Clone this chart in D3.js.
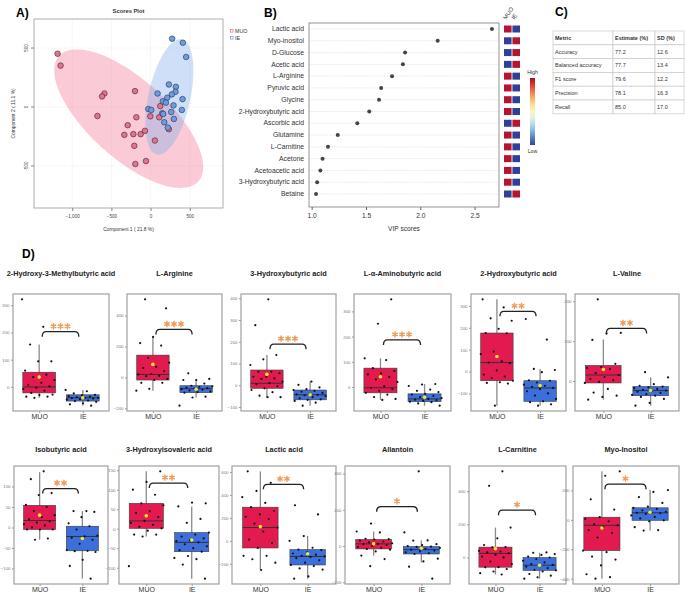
<!DOCTYPE html>
<html>
<head>
<meta charset="utf-8">
<script src="https://cdn.jsdelivr.net/npm/d3@7"></script>
<style>
  body { margin: 0; background: #fff; }
  text { font-family: "Liberation Sans", Arial, sans-serif; }
</style>
</head>
<body>
<svg id="fig" width="685" height="596"></svg>
<script>
// ---- A) scores plot
const muoScores = [[-1186,452],[-1148,351],[-589,115],[-619,90],[-678,-76],[-199,135],[-182,-87],[-292,-154],[-335,-236],[-220,-230],
  [-127,-230],[-72,-202],[-208,-329],[55,-284],[-59,-458],[-195,-483],[-4,-79],[123,8],[110,-87],[233,-188]];
const ieScores = [[275,579],[411,545],[453,424],[233,191],[322,171],[318,129],[271,107],[212,79],[89,115],[156,48],[195,37],
  [407,67],[292,14],[398,-25],[263,-42],[-30,-17],[8,-25],[148,-53],[161,-59],[297,-101],[174,-129],[220,-174]];
const scoreXLim = [-1487, 923];
const scoreYLim = [-856, 746];
const scoreXTicks = [-1000, -500, 0, 500];
const scoreYTicks = [-500, 0, 500];

// ---- B) VIP scores
const vipNames = ["Lactic acid","Myo-inositol","D-Glucose","Acetic acid","L-Arginine","Pyruvic acid","Glycine",
  "2-Hydroxybutyric acid","Ascorbic acid","Glutamine","L-Carnitine","Acetone","Acetoacetic acid","3-Hydroxybutyric acid","Betaine"];
const vipScores = [2.66, 2.16, 1.86, 1.84, 1.74, 1.64, 1.62, 1.53, 1.42, 1.24, 1.15, 1.10, 1.08, 1.05, 1.04];
const vipHigh = ["MUO","IE","IE","IE","MUO","MUO","MUO","MUO","IE","MUO","MUO","MUO","MUO","MUO","IE"];
const vipTicks = [1.0, 1.5, 2.0, 2.5];

// ---- C) table
const metricNames = ["Accuracy","Balanced accuracy","F1 score","Precision","Recall"];
const metricEstimates = ["77.2","77.7","79.6","78.1","85.0"];
const metricSD = ["12.6","13.4","12.2","16.3","17.0"];

// ---- D) box plots
const groups = ["MUO", "IE"];
const boxTitles = ["2-Hydroxy-3-Methylbutyric acid","L-Arginine","3-Hydroxybutyric acid","L-\u03b1-Aminobutyric acid",
  "2-Hydroxybutyric acid","L-Valine","Isobutyric acid","3-Hydroxyisovaleric acid","Lactic acid","Allantoin","L-Carnitine","Myo-Inositol"];
const boxStars = [3,3,3,3,2,2,2,2,2,1,1,1];
const boxTicks = [[0,100,200,300],[-200,0,200,400],[-100,0,100,200,300,400],[0,100,200,300],[-100,0,100,200,300],[0,100,200],
  [-100,-50,0,50,100],[-100,-50,0,50,100,150],[-200,0,200,400,600],[-200,0,200,400],[0,200,400],[-400,-200,0,200]];
const bracketY = [203,310,189,187,275,132,95,117,492,217,285,243];
// [whisker low, q1, median, q3, whisker high, mean]
const muoStats = [[-40,-22,0,54,156,36],[-86,-17,19,144,262,84],[-55,-14,9,70,139,50],[-51,-23,-3,75,114,41],
  [-156,-42,41,176,330,69],[-47,-5,15,39,104,29],[-30,-5,17,54,135,30],[-20,1,20,65,147,33],
  [-254,-62,116,293,605,124],[-53,-16,12,36,80,12],[-103,-59,24,62,180,53],[-400,-209,-37,18,330,-55]];
const ieStats = [[-69,-52,-40,-29,-11,-40],[-130,-99,-73,-54,-10,-77],[-94,-67,-44,-22,17,-44],[-74,-58,-47,-27,12,-41],
  [-156,-136,-75,-42,12,-64],[-62,-37,-24,-14,9,-24],[-125,-57,-22,3,40,-27],[-128,-59,-35,-10,57,-29],
  [-329,-210,-136,-76,42,-112],[-91,-44,-20,-3,31,-12],[-128,-78,-47,-1,28,-47],[-73,-3,48,82,203,52]];
const muoPoints = [
  [322,221,156,94,94,60,45,36,25,15,8,2,-3,-8,-14,-22,-28,-30,-36,-36,-40],
  [505,447,262,222,206,126,95,68,61,40,22,19,10,8,-10,-17,-35,-35,-74,-86],
  [395,276,139,119,93,62,62,55,39,39,32,29,17,10,5,-5,-14,-22,-32,-48,-55,-55],
  [348,251,114,107,75,64,54,50,40,30,20,3,-3,-8,-15,-23,-30,-40,-47,-51],
  [330,293,243,232,195,176,175,91,80,47,41,38,5,-14,-23,-30,-42,-49,-52,-55,-156],
  [205,121,119,103,43,35,33,30,20,15,10,5,2,-2,-5,-20,-29,-37,-40,-47],
  [137,118,84,79,55,50,40,30,25,20,15,12,8,5,0,-5,-5,-5,-27,-30],
  [147,120,100,87,65,60,45,40,30,20,15,10,5,1,-5,-15,-15,-20,-96],
  [605,505,435,380,330,293,260,230,210,190,150,116,80,10,-20,-62,-130,-130,-160,-190,-254],
  [124,80,75,40,38,36,30,25,20,15,12,10,5,0,-5,-10,-16,-20,-30,-53,-72,-111],
  [519,432,180,115,75,62,60,40,35,30,25,15,5,0,-25,-40,-59,-60,-70,-85,-95,-103],
  [330,300,140,70,18,5,-10,-30,-37,-50,-70,-90,-120,-209,-220,-250,-270,-310,-370,-390,-400]];
const iePoints = [
  [-11,-16,-24,-29,-31,-34,-36,-38,-40,-40,-41,-43,-45,-47,-50,-52,-55,-60,-64,-69],
  [26,-10,-17,-17,-40,-54,-58,-62,-66,-70,-73,-76,-80,-85,-90,-95,-99,-125,-130,-183],
  [17,2,-10,-18,-22,-26,-30,-35,-40,-42,-44,-46,-50,-55,-60,-65,-67,-72,-80,-94],
  [12,10,4,-10,-15,-20,-27,-30,-35,-40,-44,-47,-50,-52,-55,-58,-60,-65,-74],
  [240,146,12,7,-3,-40,-42,-50,-60,-65,-70,-75,-80,-90,-100,-110,-125,-136,-140,-150,-156],
  [22,9,-8,-12,-14,-16,-18,-20,-22,-24,-25,-27,-30,-33,-35,-37,-40,-45,-55,-62],
  [40,40,38,25,10,3,-5,-20,-22,-25,-30,-40,-55,-57,-58,-60,-79,-94,-125],
  [65,67,57,25,15,-10,-15,-20,-25,-30,-32,-35,-40,-45,-50,-55,-59,-70,-75,-78,-92,-128],
  [310,230,42,0,-60,-76,-80,-100,-110,-120,-130,-136,-140,-150,-170,-190,-210,-220,-240,-250,-310,-329],
  [412,75,31,30,10,5,0,-3,-5,-10,-15,-20,-25,-30,-35,-40,-44,-70,-85,-114,-180],
  [30,28,20,15,5,-1,-10,-20,-30,-40,-45,-50,-55,-65,-75,-78,-85,-100,-110,-120,-128],
  [203,190,155,115,90,82,75,65,55,50,48,45,40,30,20,10,-3,-10,-50,-70,-73]];

const svg = d3.select("#fig");

function panelLabel(x, y, t) {
  svg.append("text").attr("x", x).attr("y", y).attr("font-size", 12).attr("font-weight", "bold").text(t);
}

// ================= A =================
panelLabel(16, 17, "A)");
const A = {left: 34, right: 223, top: 19, bottom: 208};
const xs = d3.scaleLinear().domain(scoreXLim).range([A.left, A.right]);
const ys = d3.scaleLinear().domain(scoreYLim).range([A.bottom, A.top]);

svg.append("text").attr("x", (A.left + A.right) / 2).attr("y", 13).attr("text-anchor", "middle")
   .attr("font-size", 5.8).attr("font-weight", "bold").attr("fill", "#333").text("Scores Plot");

const gridA = svg.append("g").attr("stroke", "#e2e2e2").attr("stroke-width", 0.6).attr("stroke-dasharray", "1,1");
gridA.selectAll(".vx").data(scoreXTicks).enter().append("line")
     .attr("x1", d => xs(d)).attr("x2", d => xs(d)).attr("y1", A.top).attr("y2", A.bottom);
gridA.selectAll(".hy").data(scoreYTicks).enter().append("line")
     .attr("y1", d => ys(d)).attr("y2", d => ys(d)).attr("x1", A.left).attr("x2", A.right);

// 95% confidence ellipse from the group scores
function confEllipse(pts) {
  const mx = d3.mean(pts, d => d[0]), my = d3.mean(pts, d => d[1]);
  const n = pts.length;
  let sxx = 0, syy = 0, sxy = 0;
  pts.forEach(([a, b]) => { sxx += (a - mx) ** 2; syy += (b - my) ** 2; sxy += (a - mx) * (b - my); });
  sxx /= n - 1; syy /= n - 1; sxy /= n - 1;
  const tr = sxx + syy, det = sxx * syy - sxy * sxy;
  const disc = Math.sqrt(tr * tr / 4 - det);
  const l1 = tr / 2 + disc, l2 = tr / 2 - disc;
  const th = Math.atan2(l1 - sxx, sxy);
  const k = Math.sqrt(5.991);
  return d3.range(0, 121).map(i => {
    const a = i / 120 * 2 * Math.PI;
    const u = k * Math.sqrt(l1) * Math.cos(a), v = k * Math.sqrt(l2) * Math.sin(a);
    return [mx + u * Math.cos(th) - v * Math.sin(th), my + u * Math.sin(th) + v * Math.cos(th)];
  });
}
const ellLine = d3.line().x(d => xs(d[0])).y(d => ys(d[1]));
svg.append("clipPath").attr("id", "clipA").append("rect")
   .attr("x", A.left).attr("y", A.top).attr("width", A.right - A.left).attr("height", A.bottom - A.top);
const plotA = svg.append("g").attr("clip-path", "url(#clipA)");
plotA.append("path").attr("d", ellLine(confEllipse(muoScores))).attr("fill", "rgba(242,128,158,0.42)");
plotA.append("path").attr("d", ellLine(confEllipse(ieScores))).attr("fill", "rgba(128,172,235,0.38)");

plotA.selectAll(".muo").data(muoScores).enter().append("circle")
     .attr("cx", d => xs(d[0])).attr("cy", d => ys(d[1])).attr("r", 2.8)
     .attr("fill", "#e3718f").attr("stroke", "#3a2a30").attr("stroke-width", 0.6);
plotA.selectAll(".ie").data(ieScores).enter().append("circle")
     .attr("cx", d => xs(d[0])).attr("cy", d => ys(d[1])).attr("r", 2.8)
     .attr("fill", "#6f9ce0").attr("stroke", "#23304a").attr("stroke-width", 0.6);

svg.append("rect").attr("x", A.left).attr("y", A.top).attr("width", A.right - A.left).attr("height", A.bottom - A.top)
   .attr("fill", "none").attr("stroke", "#999").attr("stroke-width", 0.8);

const axA = svg.append("g").attr("transform", `translate(0,${A.bottom})`)
   .call(d3.axisBottom(xs).tickValues(scoreXTicks).tickSize(3).tickPadding(4));
axA.select(".domain").remove();
axA.selectAll("line").attr("stroke", "#888");
axA.selectAll("text").attr("font-size", 4.6).attr("fill", "#444");

scoreYTicks.forEach(t => {
  svg.append("line").attr("x1", A.left - 3).attr("x2", A.left).attr("y1", ys(t)).attr("y2", ys(t)).attr("stroke", "#888");
  svg.append("text").attr("transform", `translate(28,${ys(t)}) rotate(-90)`).attr("text-anchor", "middle")
     .attr("font-size", 4.6).attr("fill", "#444").text(t);
});
svg.append("text").attr("x", (A.left + A.right) / 2).attr("y", 231).attr("text-anchor", "middle")
   .attr("font-size", 4.9).attr("fill", "#333").text("Component 1 ( 21.8 %)");
svg.append("text").attr("transform", `translate(15,${(A.top + A.bottom) / 2}) rotate(-90)`).attr("text-anchor", "middle")
   .attr("font-size", 4.9).attr("fill", "#333").text("Component 2 ( 11.1 %)");

// legend
[["MUO", "#e3718f", 31], ["IE", "#6f9ce0", 38]].forEach(([lab, col, yy]) => {
  svg.append("rect").attr("x", 230.5).attr("y", yy - 1.5).attr("width", 2.6).attr("height", 2.6)
     .attr("fill", "none").attr("stroke", col).attr("stroke-width", 0.7);
  svg.append("text").attr("x", 235).attr("y", yy + 1.9).attr("font-size", 5.3).attr("fill", "#333").text(lab);
});

// ================= B =================
panelLabel(264, 17, "B)");
const B = {left: 309, right: 499, top: 23, bottom: 207};
const vext = d3.extent(vipScores), vpad = (vext[1] - vext[0]) * 0.04;
const vx = d3.scaleLinear().domain([vext[0] - vpad, vext[1] + vpad]).range([B.left, B.right]);
const vy = d3.scalePoint().domain(vipNames).range([29, 194]);

svg.append("g").selectAll("line").data(vipNames).enter().append("line")
   .attr("x1", B.left).attr("x2", B.right).attr("y1", d => vy(d)).attr("y2", d => vy(d))
   .attr("stroke", "#d8d8d8").attr("stroke-width", 0.6).attr("stroke-dasharray", "1.5,1");
svg.append("rect").attr("x", B.left).attr("y", B.top).attr("width", B.right - B.left).attr("height", B.bottom - B.top)
   .attr("fill", "none").attr("stroke", "#666").attr("stroke-width", 0.7);
svg.append("g").selectAll("circle").data(vipNames).enter().append("circle")
   .attr("cx", (d, i) => vx(vipScores[i])).attr("cy", d => vy(d)).attr("r", 2).attr("fill", "#444");
svg.append("g").selectAll("text").data(vipNames).enter().append("text")
   .attr("x", 304).attr("y", d => vy(d) + 2.2).attr("text-anchor", "end").attr("font-size", 6.8).attr("fill", "#333").text(d => d);

const axB = svg.append("g").attr("transform", `translate(0,${B.bottom})`)
   .call(d3.axisBottom(vx).tickValues(vipTicks).tickFormat(d3.format(".1f")).tickSize(3).tickPadding(3));
axB.select(".domain").remove();
axB.selectAll("line").attr("stroke", "#666");
axB.selectAll("text").attr("font-size", 6.6).attr("fill", "#333");
svg.append("text").attr("x", (B.left + B.right) / 2).attr("y", 231).attr("text-anchor", "middle")
   .attr("font-size", 6.6).attr("fill", "#333").text("VIP scores");

// heat squares
const heatRed = "#b5152f", heatBlue = "#2f3f9c";
const hx = d3.scaleBand().domain(groups).range([504, 520]).paddingInner(0.1);
vipNames.forEach((n, i) => {
  groups.forEach(gp => {
    svg.append("rect").attr("x", hx(gp)).attr("y", vy(n) - 3.5).attr("width", hx.bandwidth()).attr("height", 7)
       .attr("fill", vipHigh[i] === gp ? heatRed : heatBlue);
  });
});
groups.forEach(gp => {
  svg.append("text").attr("transform", `translate(${hx(gp) + 2},20) rotate(-55)`).attr("font-size", 5.8).attr("fill", "#333").text(gp);
});

// colour bar
const grad = svg.append("defs").append("linearGradient").attr("id", "cbar").attr("x1", 0).attr("x2", 0).attr("y1", 0).attr("y2", 1);
d3.range(0, 11).forEach(i => {
  grad.append("stop").attr("offset", i / 10).attr("stop-color", d3.interpolateRdYlBu(0.02 + i / 10 * 0.96));
});
svg.append("rect").attr("x", 530).attr("y", 78).attr("width", 5).attr("height", 67).attr("fill", "url(#cbar)");
svg.append("text").attr("x", 532.5).attr("y", 74).attr("text-anchor", "middle").attr("font-size", 5.2).attr("fill", "#333").text("High");
svg.append("text").attr("x", 532.5).attr("y", 153).attr("text-anchor", "middle").attr("font-size", 5.2).attr("fill", "#333").text("Low");

// ================= C =================
panelLabel(555, 16, "C)");
const colX = [553, 613, 655, 684];
const rowY = d3.range(0, 7).map(i => 31 + i * 13.8);
const tableRows = [["Metric", "Estimate (%)", "SD (%)"]].concat(metricNames.map((m, i) => [m, metricEstimates[i], metricSD[i]]));
tableRows.forEach((row, r) => {
  row.forEach((cell, c) => {
    svg.append("rect").attr("x", colX[c]).attr("y", rowY[r]).attr("width", colX[c + 1] - colX[c]).attr("height", rowY[r + 1] - rowY[r])
       .attr("fill", "#fff").attr("stroke", "#c8c8c8").attr("stroke-width", 0.7);
    svg.append("text").attr("x", colX[c] + 2).attr("y", rowY[r] + 8.7).attr("font-size", 5.5)
       .attr("font-weight", r === 0 ? "bold" : "normal").attr("fill", "#333").text(cell);
  });
});

// ================= D =================
panelLabel(22, 258, "D)");
const cellL = [[13,127,241,354,471,575],[14,119,232,345,469,573]];
const cellR = [[109,222,336,451,566,679],[108,219,336,450,566,679]];
const rowTop = [294, 466], rowBot = [411, 584], titleY = [276, 452], labelY = [420, 591];
const boxFill = {MUO: "#e31a4f", IE: "#3c6fdc"};
const starSym = d3.symbol().type(d3.symbolAsterisk).size(28);

boxTitles.forEach((title, i) => {
  const row = Math.floor(i / 6), col = i % 6;
  const L = cellL[row][col], R = cellR[row][col], T = rowTop[row], Bt = rowBot[row];
  const g = svg.append("g");
  const x = d3.scalePoint().domain(groups).range([L, R]).padding(0.6);
  const bw = x.step() * 0.75;
  const all = muoPoints[i].concat(iePoints[i]);
  const ext = d3.extent(all), pad = (ext[1] - ext[0]) * 0.05;
  const y = d3.scaleLinear().domain([ext[0] - pad, ext[1] + pad]).range([Bt, T]);

  g.append("text").attr("x", (L + R) / 2).attr("y", titleY[row]).attr("text-anchor", "middle")
   .attr("font-size", 7.3).attr("font-weight", "bold").attr("fill", "#222").text(title);

  const ay = g.append("g").attr("transform", `translate(${L},0)`).call(d3.axisLeft(y).tickValues(boxTicks[i]).tickSize(2).tickPadding(1.5));
  ay.select(".domain").remove();
  ay.selectAll("line").attr("stroke", "#999");
  ay.selectAll("text").attr("font-size", 4.3).attr("fill", "#777");

  const ax = g.append("g").attr("transform", `translate(0,${Bt})`).call(d3.axisBottom(x).tickSize(2).tickPadding(3));
  ax.select(".domain").remove();
  ax.selectAll("line").attr("stroke", "#999");
  ax.selectAll("text").attr("font-size", 7).attr("fill", "#333").attr("dy", "0.45em");

  [[groups[0], muoStats[i], muoPoints[i]], [groups[1], ieStats[i], iePoints[i]]].forEach(([gp, s, pts]) => {
    const cx = x(gp);
    g.append("line").attr("x1", cx).attr("x2", cx).attr("y1", y(s[0])).attr("y2", y(s[4]))
     .attr("stroke", "#8a8a8a").attr("stroke-width", 1.3);
    g.append("rect").attr("x", cx - bw / 2).attr("width", bw).attr("y", y(s[3])).attr("height", y(s[1]) - y(s[3]))
     .attr("fill", boxFill[gp]).attr("stroke", "#3a3a3a").attr("stroke-width", 0.6);
    g.append("line").attr("x1", cx - bw / 2).attr("x2", cx + bw / 2).attr("y1", y(s[2])).attr("y2", y(s[2]))
     .attr("stroke", "#333").attr("stroke-width", 1);
    g.selectAll(null).data(pts).enter().append("circle")
     .attr("cx", (d, j) => cx + (((j * 0.618034 + i * 0.27) % 1) - 0.5) * bw * 1.05)
     .attr("cy", d => y(d)).attr("r", 1.1).attr("fill", "#111");
    g.append("circle").attr("cx", cx).attr("cy", y(s[5])).attr("r", 1.8).attr("fill", "#f5e52a");
  });

  // significance bracket
  const x1 = x(groups[0]) + 3, x2 = x(groups[1]) - 4, yb = y(bracketY[i]);
  g.append("path").attr("d", `M${x1},${yb + 5} Q${x1},${yb} ${x1 + 4},${yb} L${x2 - 4},${yb} Q${x2},${yb} ${x2},${yb + 5}`)
   .attr("fill", "none").attr("stroke", "#222").attr("stroke-width", 1.3);
  const mid = (x1 + x2) / 2, ns = boxStars[i];
  d3.range(ns).forEach(k => {
    g.append("path").attr("d", starSym()).attr("transform", `translate(${mid + (k - (ns - 1) / 2) * 7},${yb - 5.5})`)
     .attr("fill", "none").attr("stroke", "#f09a58").attr("stroke-width", 1.4);
  });

  g.append("rect").attr("x", L).attr("y", T).attr("width", R - L).attr("height", Bt - T)
   .attr("fill", "none").attr("stroke", "#a0a0a0").attr("stroke-width", 1.2);
});
</script>
</body>
</html>
